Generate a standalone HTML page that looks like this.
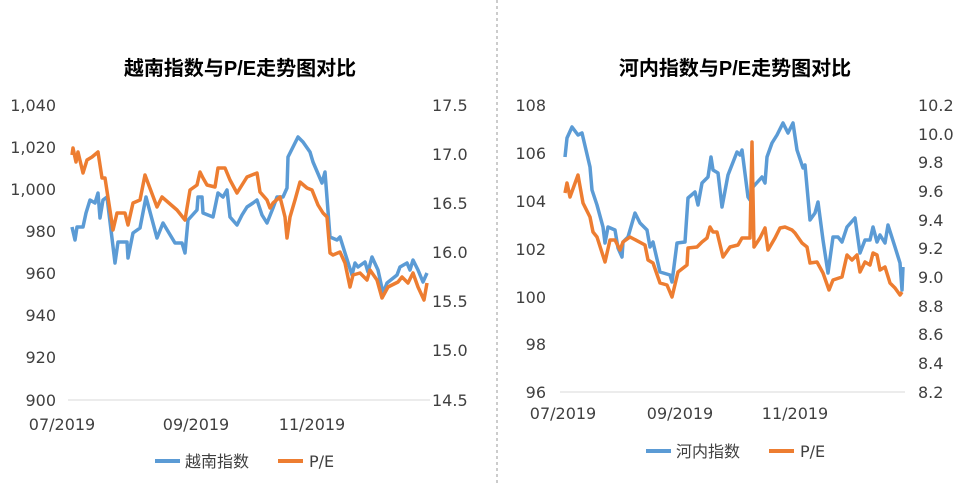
<!DOCTYPE html>
<html><head><meta charset="utf-8"><style>
body{margin:0;background:#fff}
svg text{font-family:"DejaVu Sans","Noto Sans CJK SC",sans-serif;fill:#404040;font-size:16px}
.t{font-family:"Liberation Sans","Noto Sans CJK SC",sans-serif;font-weight:bold;font-size:20px;fill:#000}
</style></head><body>
<svg width="969" height="486" viewBox="0 0 969 486" xmlns="http://www.w3.org/2000/svg">
<line x1="497" y1="0" x2="497" y2="486" stroke="#999" stroke-dasharray="3,3"/>
<text class="t" x="240" y="75" text-anchor="middle">越南指数与P/E走势图对比</text>
<text class="t" x="735" y="75" text-anchor="middle">河内指数与P/E走势图对比</text>
<line x1="68" y1="400" x2="430" y2="400" stroke="#d9d9d9"/>
<line x1="560" y1="392" x2="905" y2="392" stroke="#d9d9d9"/>
<g text-anchor="end">
<text x="56" y="111">1,040</text><text x="56" y="153">1,020</text><text x="56" y="195">1,000</text><text x="56" y="237">980</text><text x="56" y="279">960</text><text x="56" y="321">940</text><text x="56" y="363">920</text><text x="56" y="406">900</text>
<text x="546" y="111">108</text><text x="546" y="159">106</text><text x="546" y="207">104</text><text x="546" y="255">102</text><text x="546" y="303">100</text><text x="546" y="350">98</text><text x="546" y="398">96</text>
</g>
<g text-anchor="start">
<text x="432" y="111">17.5</text><text x="432" y="160">17.0</text><text x="432" y="209">16.5</text><text x="432" y="258">16.0</text><text x="432" y="307">15.5</text><text x="432" y="356">15.0</text><text x="432" y="406">14.5</text>
<text x="918" y="111">10.2</text><text x="918" y="140">10.0</text><text x="918" y="168">9.8</text><text x="918" y="197">9.6</text><text x="918" y="226">9.4</text><text x="918" y="254">9.2</text><text x="918" y="283">9.0</text><text x="918" y="312">8.8</text><text x="918" y="340">8.6</text><text x="918" y="369">8.4</text><text x="918" y="398">8.2</text>
</g>
<g text-anchor="middle">
<text x="62" y="430">07/2019</text><text x="196" y="430">09/2019</text><text x="312" y="430">11/2019</text>
<text x="563" y="419">07/2019</text><text x="680" y="419">09/2019</text><text x="795" y="419">11/2019</text>
</g>
<g fill="none" stroke-width="3.5" stroke-linejoin="round">
<polyline stroke="#5b9bd5" points="72,227 75,240 77,227 83,227 86,213 90,200 95,203 98,193 100,218 103,200 107,197 115,263 118,242 127,242 128,258 133,233 140,228 146,197 157,238 163,223 175,243 182,243 185,253 188,220 197,210 198,197 202,197 203,213 213,217 218,193 223,197 227,190 230,217 237,225 242,215 247,207 253,203 257,200 262,215 267,223 273,208 277,197 283,197 287,188 288,157 298,137 303,142 310,152 313,162 322,183 325,172 330,237 337,240 340,237 345,253 352,275 355,263 358,267 365,262 368,272 372,257 378,270 383,293 387,283 397,275 400,267 407,263 410,270 413,260 418,270 423,282 427,273"/>
<polyline stroke="#ed7d31" points="72,155 73,148 76,162 78,152 83,173 87,160 92,157 98,152 102,178 105,178 113,230 117,213 125,213 128,225 133,203 140,200 145,175 157,207 162,197 177,210 185,220 190,190 197,185 200,172 203,178 207,185 215,187 218,168 225,168 230,180 237,193 242,185 247,177 257,173 260,192 267,200 270,208 273,203 280,197 285,217 287,238 290,217 295,200 300,182 307,188 312,190 318,205 323,213 327,217 330,253 333,255 340,252 345,263 350,287 353,275 360,273 367,280 370,270 377,280 382,298 388,287 398,282 402,277 408,283 413,273 418,287 424,300 427,283"/>
<polyline stroke="#5b9bd5" points="565,157 567,138 572,127 578,135 582,133 590,167 592,190 597,205 603,227 605,243 608,227 615,230 618,248 622,257 623,242 628,237 635,213 640,223 647,230 650,247 653,242 660,272 670,275 672,282 677,243 685,242 688,198 695,192 698,205 702,183 708,177 711,157 713,170 718,173 722,207 728,175 737,152 740,155 742,150 748,197 750,200 753,187 762,177 765,183 767,157 772,143 777,135 783,123 788,133 793,123 797,150 803,168 805,165 810,220 815,213 818,202 823,240 828,273 833,237 838,237 842,242 847,227 855,218 860,253 865,240 870,240 873,227 877,242 880,235 885,243 888,225 895,247 900,263 902,290 903,267"/>
<polyline stroke="#ed7d31" points="565,193 567,183 570,197 578,175 583,203 590,217 593,232 597,237 605,262 610,240 615,240 620,250 623,242 630,237 645,245 648,260 653,263 660,283 667,285 672,297 678,272 687,265 688,248 697,247 702,242 707,238 710,227 713,232 717,232 723,257 730,247 738,245 742,238 750,238 752,142 754,247 760,238 765,228 768,250 775,238 780,228 785,227 792,230 795,233 802,243 807,247 810,263 817,262 823,273 829,290 833,280 842,277 847,255 852,260 857,255 860,272 865,262 870,265 873,253 877,255 880,270 885,267 890,283 895,288 900,295 902,292"/>
</g>
<line x1="155" y1="461" x2="180" y2="461" stroke="#5b9bd5" stroke-width="4"/>
<text x="185" y="467">越南指数</text>
<line x1="278" y1="461" x2="303" y2="461" stroke="#ed7d31" stroke-width="4"/>
<text x="309" y="467">P/E</text>
<line x1="646" y1="451" x2="671" y2="451" stroke="#5b9bd5" stroke-width="4"/>
<text x="676" y="457">河内指数</text>
<line x1="769" y1="451" x2="794" y2="451" stroke="#ed7d31" stroke-width="4"/>
<text x="800" y="457">P/E</text>
</svg>
</body></html>
